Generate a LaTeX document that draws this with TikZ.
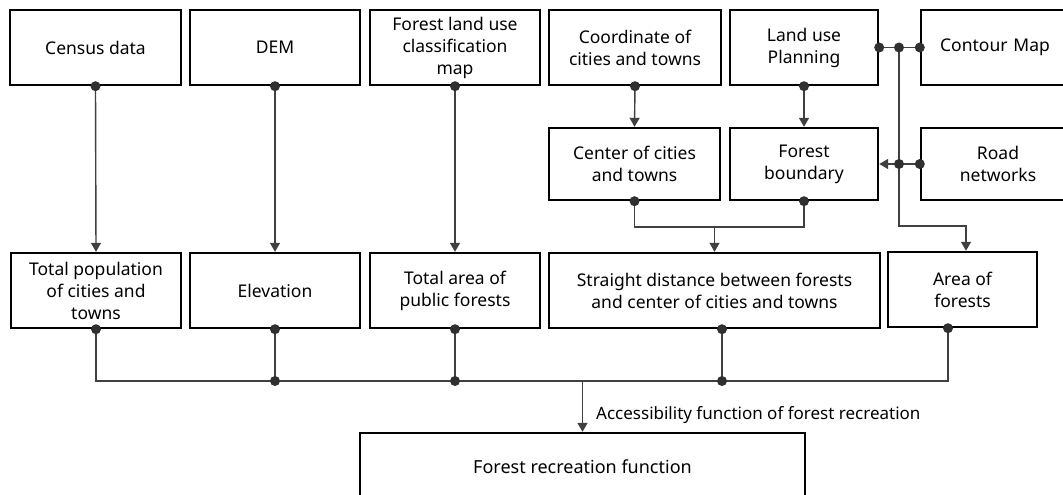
\documentclass[tikz,border=0pt]{standalone}
\usepackage{fontspec}
\setmainfont{Noto Sans}
\usetikzlibrary{arrows.meta,calc}
\definecolor{linegray}{HTML}{404040}
\definecolor{dotgray}{HTML}{303030}
\tikzset{
  box/.style={draw=black, line width=2.4pt, rectangle, align=center, inner sep=2pt,
    font=\fontsize{17.5}{22}\selectfont, text=black},
  conn/.style={draw=linegray, line width=1.4pt},
  arr/.style={conn, -{Triangle[width=10pt,length=9pt]}},
  dotmark/.style={circle, fill=dotgray, inner sep=0pt, minimum size=10pt},
}
\begin{document}
\begin{tikzpicture}[x=1pt,y=-1pt]
\clip (0,0) rectangle (1063,495);
\fill[white] (0,0) rectangle (1063,495);
% top row
\node[box, minimum width=171pt, minimum height=75pt] (census) at (95.5,47.5) {Census data};
\node[box, minimum width=170pt, minimum height=75pt] (dem) at (275,47.5) {DEM};
\node[box, minimum width=170pt, minimum height=75pt] (fland) at (455,47.5) {Forest land use\\classification\\map};
\node[box, minimum width=172pt, minimum height=75pt] (coord) at (635,47.5) {Coordinate of\\cities and towns};
\node[box, minimum width=148pt, minimum height=75pt] (landuse) at (804,47.5) {Land use\\Planning};
\node[box, minimum width=154pt, minimum height=75pt, text width=140pt] (contour) at (998,47.5) {Contour Map\hspace*{6pt}};
% middle row
\node[box, minimum width=171pt, minimum height=72pt] (center) at (634.5,164) {Center of cities\\and towns};
\node[box, minimum width=148pt, minimum height=72pt] (fbound) at (804,164) {Forest\\boundary};
\node[box, minimum width=154pt, minimum height=72pt, text width=140pt] (road) at (998,164) {Road\\networks};
% bottom row
\node[box, minimum width=170pt, minimum height=75pt] (totpop) at (96,290.5) {Total population\\of cities and\\towns};
\node[box, minimum width=170pt, minimum height=75pt] (elev) at (275,290.5) {Elevation};
\node[box, minimum width=170pt, minimum height=75pt] (totarea) at (455,290.5) {Total area of\\public forests};
\node[box, minimum width=331pt, minimum height=75pt] (straight) at (714.5,290.5) {Straight distance between forests\\and center of cities and towns};
\node[box, minimum width=149pt, minimum height=75pt] (areaf) at (962.5,289.5) {Area of\\forests};
\node[box, minimum width=445pt, minimum height=68pt, font=\fontsize{18}{22}\selectfont] (frf) at (582.5,467) {Forest recreation function};
% label
\node[anchor=west, inner sep=0pt, font=\fontsize{17}{20}\selectfont, text=black] (acc) at (596,415) {Accessibility function of forest recreation};

% coordinates
\coordinate (j1) at (899,47.5);
\coordinate (j2) at (899,164);
\coordinate (k) at (899,226);
\coordinate (joinC) at (714.5,227);
\coordinate (bus) at (582.5,381);
\coordinate (sd) at ($(straight.south)+(7.5,0)$);
\coordinate (ad) at ($(areaf.south)+(-14.5,0)$);

% top-to-bottom arrows
\draw[arr] (census.south) -- (totpop.north);
\draw[arr] (dem.south) -- (elev.north);
\draw[arr] (fland.south) -- (totarea.north);
\draw[arr] (coord.south) -- (center.north);
\draw[arr] (landuse.south) -- (fbound.north);
% contour / road junction
\draw[conn] (landuse.east) -- (contour.west);
\draw[arr] (road.west) -- (fbound.east);
\draw[arr] (j1) -- (k) -| ($(areaf.north)+(3.5,0)$);
% center/forest boundary join
\draw[conn] (center.south) |- (joinC) -| (fbound.south);
\draw[arr] (joinC) -- (straight.north);
% bus
\draw[conn] (totpop.south) |- (bus) -| (ad);
\draw[conn] (elev.south) -- (elev.south |- bus);
\draw[conn] (totarea.south) -- (totarea.south |- bus);
\draw[conn] (sd) -- (sd |- bus);
\draw[arr] (bus) -- (frf.north);

% dots
\foreach \p in {census.south, dem.south, fland.south, coord.south, landuse.south,
  landuse.east, j1, contour.west, j2, road.west, center.south, fbound.south,
  totpop.south, elev.south, totarea.south, sd, ad}
  \node[dotmark] at (\p) {};
\node[dotmark] at (elev.south |- bus) {};
\node[dotmark] at (totarea.south |- bus) {};
\node[dotmark] at (sd |- bus) {};
\end{tikzpicture}
\end{document}
